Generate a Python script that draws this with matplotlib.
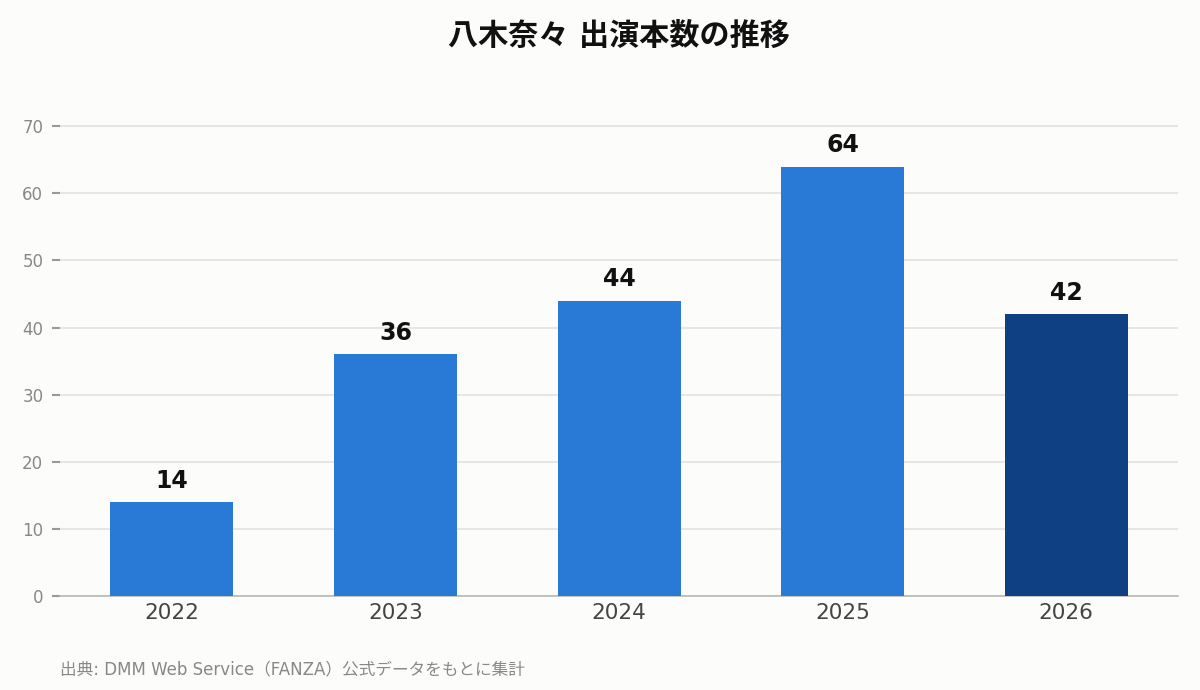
import matplotlib
matplotlib.use("Agg")
import matplotlib.pyplot as plt

plt.rcParams['font.family'] = ['DejaVu Sans', 'Noto Sans CJK JP']

# data
years = ["2022", "2023", "2024", "2025", "2026"]
counts = [14, 36, 44, 64, 42]
bar_colors = ["#2979D6", "#2979D6", "#2979D6", "#2979D6", "#0F4084"]
yticks = [0, 10, 20, 30, 40, 50, 60, 70]

bg = "#FCFCFA"
fig = plt.figure(figsize=(12, 6.9), dpi=100, facecolor=bg)
ax = fig.add_axes([0.05, 0.1362, 0.9317, 0.71])
ax.set_facecolor(bg)

x = range(len(years))
bars = ax.bar(x, counts, width=0.55, color=bar_colors, zorder=3)
for b, v in zip(bars, counts):
    ax.text(b.get_x() + b.get_width() / 2, v + 1.4, str(v), ha="center", va="bottom",
            fontsize=17, fontweight="bold", color="#111111")

ax.set_xlim(-0.5, 4.5)
ax.set_ylim(0, 73)
ax.set_xticks(list(x))
ax.set_xticklabels(years, fontsize=15.5, color="#444444")
ax.set_yticks(yticks)
ax.set_yticklabels([str(t) for t in yticks], fontsize=12, color="#888888")
ax.tick_params(axis="x", length=0, pad=5)
ax.tick_params(axis="y", length=6, width=1.5, color="#999999", pad=6)
ax.grid(axis="y", color="#E2E2DE", linewidth=1.2, zorder=0)
for s in ["top", "right", "left"]:
    ax.spines[s].set_visible(False)
ax.spines["bottom"].set_color("#B8B8B4")
ax.spines["bottom"].set_linewidth(1.2)

# title centred over the plot area
fig.text(0.05 + 0.9317 / 2, 0.947, "八木奈々 出演本数の推移", ha="center", va="center",
         fontsize=21.7, fontweight="bold", color="#111111")
fig.text(0.05, 0.03, "出典: DMM Web Service（FANZA）公式データをもとに集計", ha="left", va="center",
         fontsize=12, color="#888888")

fig.savefig("out.png", dpi=100, facecolor=bg)
